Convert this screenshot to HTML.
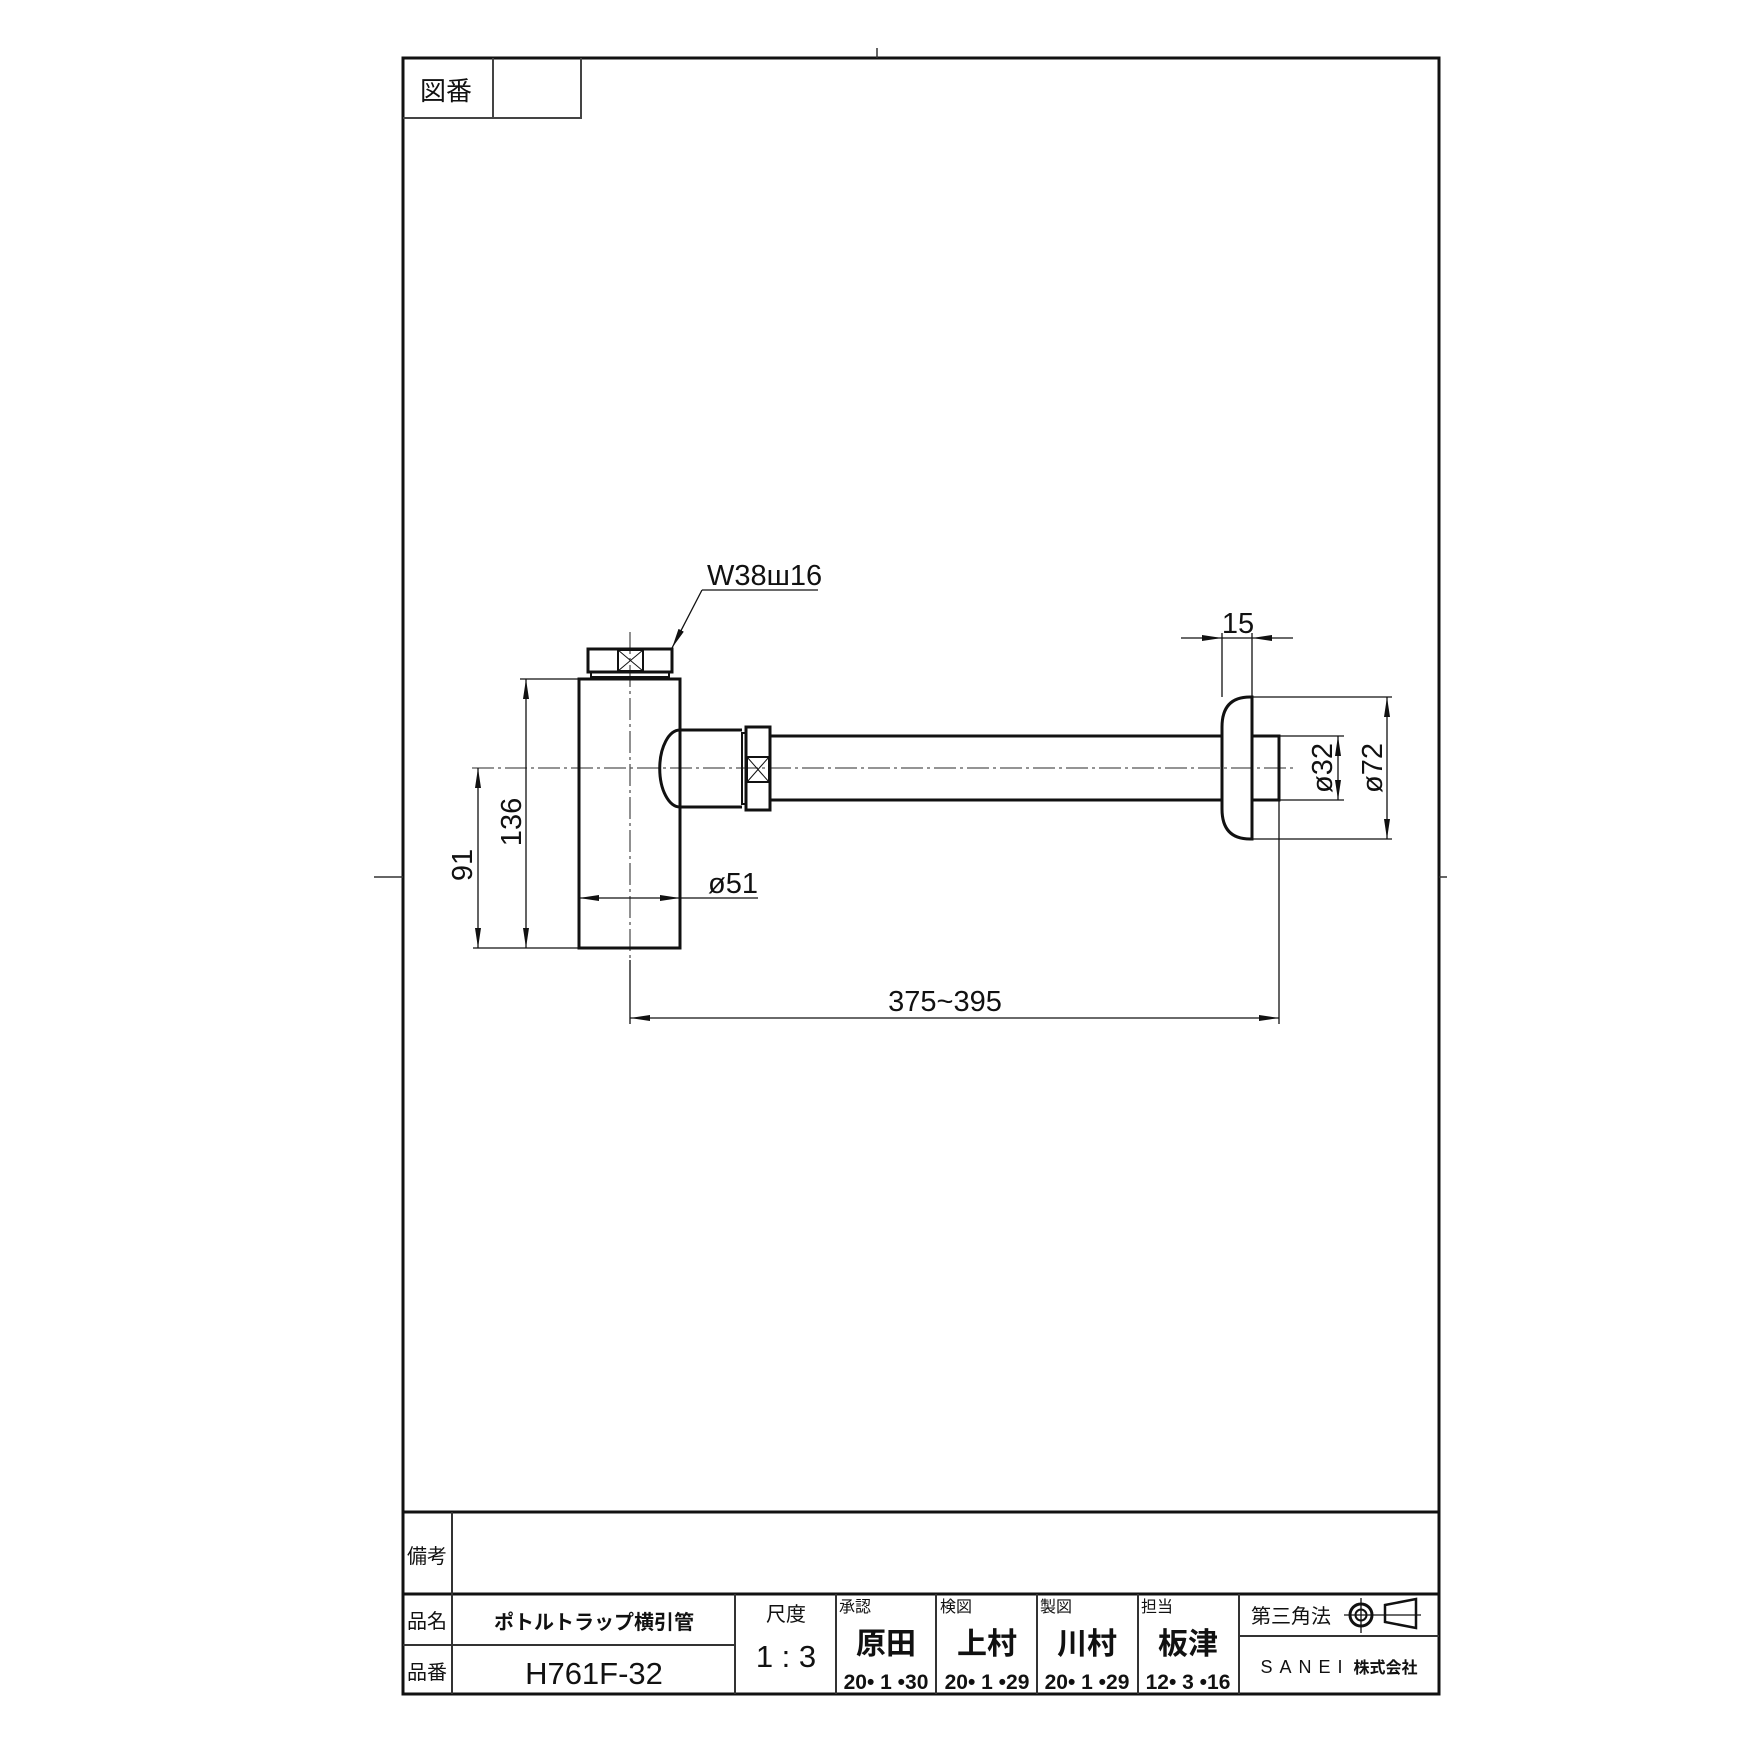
<!DOCTYPE html>
<html><head><meta charset="utf-8"><style>
html,body{margin:0;padding:0;background:#fff}
svg{display:block}
text{font-family:"Liberation Sans","Noto Sans CJK JP",sans-serif;fill:#111}
</style></head><body>
<svg width="1754" height="1754" viewBox="0 0 1754 1754" xmlns="http://www.w3.org/2000/svg">
<defs>
<marker id="a" viewBox="0 0 20 8" refX="20" refY="4" markerWidth="20" markerHeight="8" markerUnits="userSpaceOnUse" orient="auto-start-reverse"><path d="M0,1 L20,4 L0,7 Z" fill="#111"/></marker>
</defs>
<rect x="403" y="58" width="1036" height="1636" fill="none" stroke="#111" stroke-width="3"/>
<line x1="877" y1="48" x2="877" y2="58" stroke="#333" stroke-width="1.5"/>
<line x1="374" y1="877" x2="403" y2="877" stroke="#333" stroke-width="1.5"/>
<line x1="1439" y1="877" x2="1447" y2="877" stroke="#333" stroke-width="1.5"/>
<path d="M403,118 H581 V58 M493,58 V118" fill="none" stroke="#444" stroke-width="2"/>
<text x="420" y="100" font-size="26">図番</text>

<g fill="none" stroke="#111" stroke-linecap="butt">
<line x1="630" y1="632" x2="630" y2="960" stroke="#555" stroke-width="1.3" stroke-dasharray="22,4,3,4"/>
<line x1="472" y1="768" x2="1296" y2="768" stroke="#555" stroke-width="1.3" stroke-dasharray="22,4,3,4"/>
<rect x="579" y="679" width="101" height="269" stroke-width="3"/>
<rect x="588" y="649" width="84" height="23" stroke-width="3"/>
<rect x="591" y="672" width="78" height="5" stroke-width="2"/>
<rect x="618" y="650" width="25" height="21" stroke-width="2"/>
<path d="M618,650 L643,671 M643,650 L618,671" stroke-width="1"/>
<path d="M680,730 H742 M680,807 H742" stroke-width="3"/>
<path d="M680,730 A20,38 0 0 0 680,807" stroke-width="3"/>
<rect x="742" y="733" width="4" height="71" stroke-width="2"/>
<rect x="746" y="727" width="24" height="83" stroke-width="3"/>
<rect x="747" y="757" width="22" height="25" stroke-width="2"/>
<path d="M747,757 L769,782 M769,757 L747,782" stroke-width="1"/>
<path d="M770,736 H1222 M770,800 H1222" stroke-width="3"/>
<path d="M1252,697 H1250 Q1222,697 1222,727 V809 Q1222,839 1250,839 H1252 Z" stroke-width="3"/>
<rect x="1252" y="736" width="27" height="64" stroke-width="3"/>

<g stroke-width="1.3">
<line x1="818" y1="590" x2="702" y2="590"/>
<line x1="702" y1="590" x2="672" y2="648" marker-end="url(#a)"/>
<line x1="520" y1="679" x2="579" y2="679"/>
<line x1="473" y1="948" x2="579" y2="948"/>
<line x1="526" y1="679" x2="526" y2="948" marker-start="url(#a)" marker-end="url(#a)"/>
<line x1="478" y1="768" x2="478" y2="948" marker-start="url(#a)" marker-end="url(#a)"/>
<line x1="579" y1="898" x2="680" y2="898" marker-start="url(#a)" marker-end="url(#a)"/>
<line x1="680" y1="898" x2="758" y2="898"/>
<line x1="630" y1="960" x2="630" y2="1024"/>
<line x1="1279" y1="800" x2="1279" y2="1024"/>
<line x1="630" y1="1018" x2="1279" y2="1018" marker-start="url(#a)" marker-end="url(#a)"/>
<line x1="1222" y1="633" x2="1222" y2="697"/>
<line x1="1252" y1="633" x2="1252" y2="697"/>
<line x1="1181" y1="638" x2="1222" y2="638" marker-end="url(#a)"/>
<line x1="1293" y1="638" x2="1252" y2="638" marker-end="url(#a)"/>
<line x1="1222" y1="638" x2="1252" y2="638"/>
<line x1="1279" y1="736" x2="1344" y2="736"/>
<line x1="1279" y1="800" x2="1344" y2="800"/>
<line x1="1338" y1="736" x2="1338" y2="800" marker-start="url(#a)" marker-end="url(#a)"/>
<line x1="1252" y1="697" x2="1392" y2="697"/>
<line x1="1252" y1="839" x2="1392" y2="839"/>
<line x1="1387" y1="697" x2="1387" y2="839" marker-start="url(#a)" marker-end="url(#a)"/>
</g>
</g>

<g font-size="29">
<text x="707" y="585">W38ш16</text>
<text x="945" y="1011" text-anchor="middle">375~395</text>
<text x="1238" y="633" text-anchor="middle">15</text>
<text x="708" y="893">ø51</text>
<text transform="translate(521,822) rotate(-90)" text-anchor="middle">136</text>
<text transform="translate(472,865) rotate(-90)" text-anchor="middle">91</text>
<text transform="translate(1332,768) rotate(-90)" text-anchor="middle">ø32</text>
<text transform="translate(1382,768) rotate(-90)" text-anchor="middle">ø72</text>
</g>

<g fill="none" stroke="#111">
<line x1="403" y1="1512" x2="1439" y2="1512" stroke-width="3"/>
<line x1="403" y1="1594" x2="1439" y2="1594" stroke-width="3"/>
<g stroke="#333" stroke-width="2">
<line x1="452" y1="1512" x2="452" y2="1694"/>
<line x1="403" y1="1645" x2="735" y2="1645"/>
<line x1="735" y1="1594" x2="735" y2="1694"/>
<line x1="836" y1="1594" x2="836" y2="1694"/>
<line x1="936" y1="1594" x2="936" y2="1694"/>
<line x1="1037" y1="1594" x2="1037" y2="1694"/>
<line x1="1138" y1="1594" x2="1138" y2="1694"/>
<line x1="1239" y1="1594" x2="1239" y2="1694"/>
<line x1="1239" y1="1636" x2="1439" y2="1636"/>
</g>
<g stroke-width="2">
<circle cx="1361" cy="1615" r="11" stroke-width="3"/>
<circle cx="1361" cy="1615" r="5.5" stroke-width="2"/>
<line x1="1344" y1="1615" x2="1421" y2="1615" stroke-width="1.3"/>
<line x1="1361" y1="1598" x2="1361" y2="1633" stroke-width="1.3"/>
<path d="M1385,1605 L1416,1599 V1628 L1385,1622 Z" stroke-width="2.5"/>
</g>
</g>
<g>
<text x="407" y="1563" font-size="20">備考</text>
<text x="407" y="1628" font-size="20">品名</text>
<text x="407" y="1679" font-size="20">品番</text>
<text x="594" y="1629" font-size="20" font-weight="bold" text-anchor="middle">ポトルトラップ横引管</text>
<text x="594" y="1684" font-size="31" text-anchor="middle">H761F-32</text>
<text x="786" y="1621" font-size="20" text-anchor="middle">尺度</text>
<text x="786" y="1667" font-size="31" text-anchor="middle">1 : 3</text>
<g font-size="16">
<text x="839" y="1612">承認</text>
<text x="940" y="1612">検図</text>
<text x="1040" y="1612">製図</text>
<text x="1141" y="1612">担当</text>
</g>
<g font-size="30" font-weight="bold" text-anchor="middle">
<text x="886" y="1654">原田</text>
<text x="987" y="1654">上村</text>
<text x="1087" y="1654">川村</text>
<text x="1188" y="1654">板津</text>
</g>
<g font-size="21" font-weight="bold" text-anchor="middle">
<text x="886" y="1689">20• 1 •30</text>
<text x="987" y="1689">20• 1 •29</text>
<text x="1087" y="1689">20• 1 •29</text>
<text x="1188" y="1689">12• 3 •16</text>
</g>
<text x="1251" y="1623" font-size="20">第三角法</text>
<text x="1339" y="1673" font-size="18" text-anchor="middle"><tspan letter-spacing="7">SANEI</tspan><tspan font-weight="bold" font-size="16" dx="4">株式会社</tspan></text>
</g>
</svg>
</body></html>
